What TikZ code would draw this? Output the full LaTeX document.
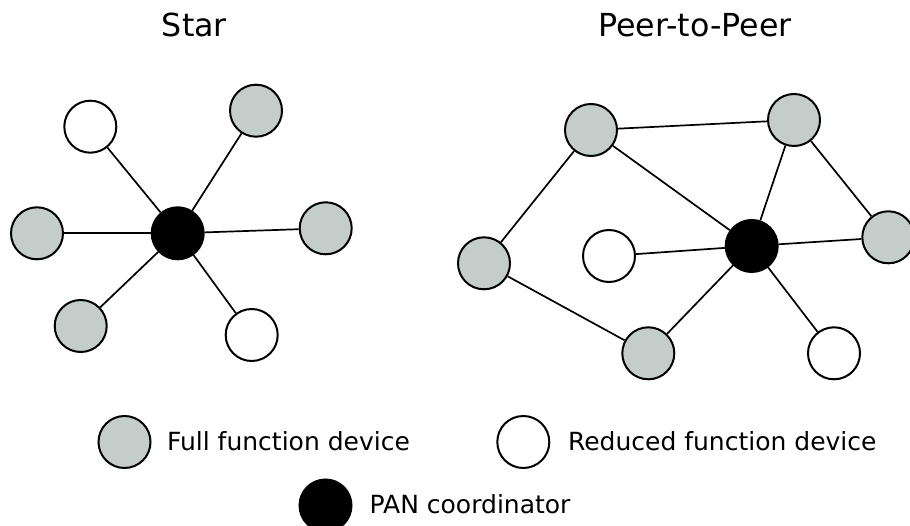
\documentclass[tikz,border=0pt]{standalone}
\usepackage{fontspec}
\setmainfont{DejaVu Sans}
\definecolor{ffdgray}{RGB}{196,205,202}
\begin{document}
\begin{tikzpicture}[x=1pt,y=-1pt,
  dev/.style={circle,draw=black,line width=2pt,minimum size=52pt,inner sep=0pt},
  ffd/.style={dev,fill=ffdgray},
  rfd/.style={dev,fill=white},
  pan/.style={dev,fill=black},
  link/.style={line width=1.7pt,black},
  title/.style={anchor=base,inner sep=0pt,font=\fontsize{31.7}{38}\selectfont},
  legtext/.style={anchor=base west,inner sep=0pt,font=\fontsize{25}{30}\selectfont}]
\useasboundingbox (0,0) rectangle (910,526);
\fill[white] (0,0) rectangle (910,526);

% titles
\node[title] (tstar) at (194.5,36.7) {Star};
\node[title] (tp2p) at (695,36.7) {Peer-to-Peer};

% star topology
\node[pan] (sc) at (177.7,233.3) {};
\node[rfd] (s1) at (90.3,126.7) {};
\node[ffd] (s2) at (256,110.7) {};
\node[ffd] (s3) at (37,233.3) {};
\node[ffd] (s4) at (325.7,228.3) {};
\node[ffd] (s5) at (80.7,326) {};
\node[rfd] (s6) at (251.7,335) {};
\foreach \n in {s1,s2,s3,s4,s5,s6} \draw[link] (sc) -- (\n);

% peer-to-peer topology
\node[pan] (pc) at (751.7,246) {};
\node[ffd] (pa) at (591,130) {};
\node[ffd] (pb) at (794,120) {};
\node[ffd] (pr) at (888.3,237.3) {};
\node[ffd] (pl) at (484,263.3) {};
\node[ffd] (pe) at (648.3,353.3) {};
\node[rfd] (pf) at (609,256) {};
\node[rfd] (pg) at (834,353.3) {};
\draw[link] (pa) -- (pb);
\draw[link] (pa) -- (pc);
\draw[link] (pa) -- (pl);
\draw[link] (pb) -- (pc);
\draw[link] (pb) -- (pr);
\draw[link] (pr) -- (pc);
\draw[link] (pl) -- (pe);
\draw[link] (pe) -- (pc);
\draw[link] (pf) -- (pc);
\draw[link] (pg) -- (pc);

% legend
\node[ffd] (lf) at (124.5,442) {};
\node[legtext] (lft) at (166.8,450.9) {Full function device};
\node[rfd] (lr) at (523.3,442) {};
\node[legtext] (lrt) at (567.8,450.9) {Reduced function device};
\node[pan] (lp) at (325.5,505.5) {};
\node[legtext] (lpt) at (369.5,513.5) {PAN coordinator};
\end{tikzpicture}
\end{document}
